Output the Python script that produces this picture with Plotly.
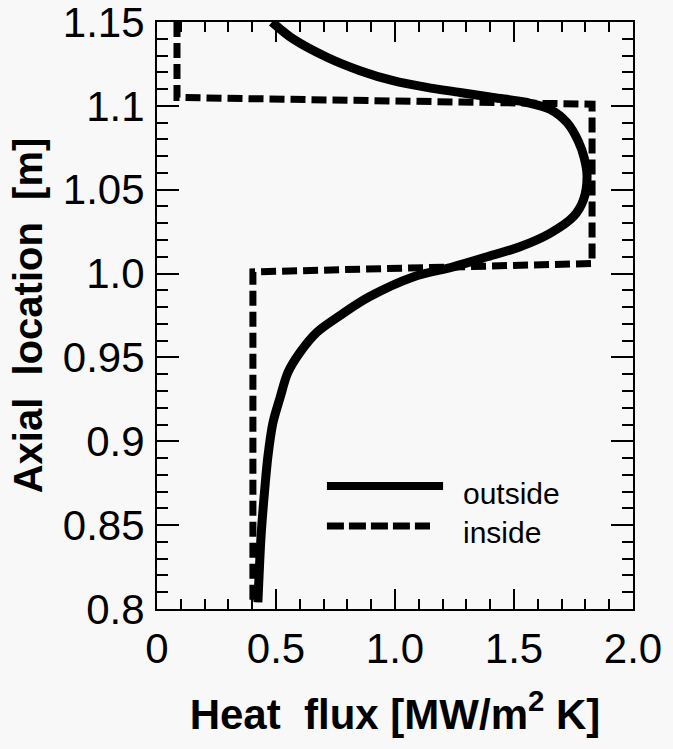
import plotly.graph_objects as go

# Data
outside_flux = [0.483, 0.571, 0.714, 0.853, 0.992, 1.134, 1.273, 1.412, 1.555, 1.651, 1.723,
                1.770, 1.795, 1.807, 1.792, 1.750, 1.651, 1.525, 1.387, 1.244, 1.076,
                0.890, 0.769, 0.672, 0.601, 0.550, 0.517, 0.487, 0.466, 0.450, 0.437,
                0.424]
outside_z = [1.150, 1.140, 1.129, 1.121, 1.115, 1.111, 1.108, 1.105, 1.102, 1.098, 1.090,
             1.079, 1.069, 1.058, 1.044, 1.034, 1.024, 1.016, 1.010, 1.004, 0.998,
             0.986, 0.975, 0.965, 0.953, 0.941, 0.926, 0.911, 0.891, 0.867, 0.843,
             0.804]

inside_flux = [0.084, 0.084, 1.828, 1.828, 0.403, 0.403]
inside_z = [1.150, 1.105, 1.101, 1.006, 1.001, 0.803]

x_tickvals = [0, 0.5, 1.0, 1.5, 2.0]
x_ticktext = ["0", "0.5", "1.0", "1.5", "2.0"]
y_tickvals = [0.8, 0.85, 0.9, 0.95, 1.0, 1.05, 1.1, 1.15]
y_ticktext = ["0.8", "0.85", "0.9", "0.95", "1.0", "1.05", "1.1", "1.15"]

legend_names = ["outside", "inside"]

BG = "#f8f8f8"
FONT = "Liberation Sans, Arial, Helvetica, sans-serif"

fig = go.Figure()
fig.add_trace(go.Scatter(x=outside_flux, y=outside_z, mode="lines", name=legend_names[0],
                         line=dict(color="black", width=9, shape="spline", smoothing=0.9),
                         showlegend=False))
fig.add_trace(go.Scatter(x=inside_flux, y=inside_z, mode="lines", name=legend_names[1],
                         line=dict(color="black", width=7, dash="15px,6px"),
                         showlegend=False))

# manual legend (long line samples as in the reference)
fig.add_shape(type="line", xref="paper", yref="paper", x0=0.357, x1=0.601, y0=0.2095, y1=0.2095,
              line=dict(color="black", width=8))
fig.add_shape(type="line", xref="paper", yref="paper", x0=0.357, x1=0.5735, y0=0.1414, y1=0.1414,
              line=dict(color="black", width=7, dash="17px,5px"))
fig.add_annotation(xref="paper", yref="paper", x=0.6387, y=0.197, text=legend_names[0],
                   showarrow=False, xanchor="left", yanchor="middle",
                   font=dict(family=FONT, size=30, color="black"))
fig.add_annotation(xref="paper", yref="paper", x=0.6387, y=0.131, text=legend_names[1],
                   showarrow=False, xanchor="left", yanchor="middle",
                   font=dict(family=FONT, size=30, color="black"))

axis_common = dict(
    showline=True, linecolor="black", linewidth=2, mirror="allticks",
    ticks="inside", tickcolor="black", tickwidth=2,
    showgrid=False, zeroline=False, ticklabeloverflow="allow",
    tickfont=dict(family=FONT, size=42, color="black"),
)

fig.update_xaxes(**axis_common, range=[0, 2.0], tickvals=x_tickvals, ticktext=x_ticktext,
                 ticklen=20, ticklabelstandoff=2,
                 minor=dict(dtick=0.1, ticks="inside", ticklen=10, tickcolor="black", tickwidth=2),
                 title=dict(text="<b>Heat\u00a0 flux [MW/m<sup>2</sup> K]</b>",
                            font=dict(family=FONT, size=42, color="black"), standoff=28))
fig.update_yaxes(**axis_common, range=[0.8, 1.15], tickvals=y_tickvals, ticktext=y_ticktext,
                 ticklen=22, ticklabelstandoff=2,
                 minor=dict(dtick=0.01, ticks="inside", ticklen=11, tickcolor="black", tickwidth=2),
                 title=dict(text="<b>Axial\u00a0 location\u00a0 [m]</b>",
                            font=dict(family=FONT, size=40, color="black"), standoff=8))

fig.update_layout(
    width=673, height=749,
    margin=dict(l=157, r=40, t=22, b=140, autoexpand=False),
    paper_bgcolor=BG, plot_bgcolor=BG,
    showlegend=False,
)

fig.write_html("out.html")
